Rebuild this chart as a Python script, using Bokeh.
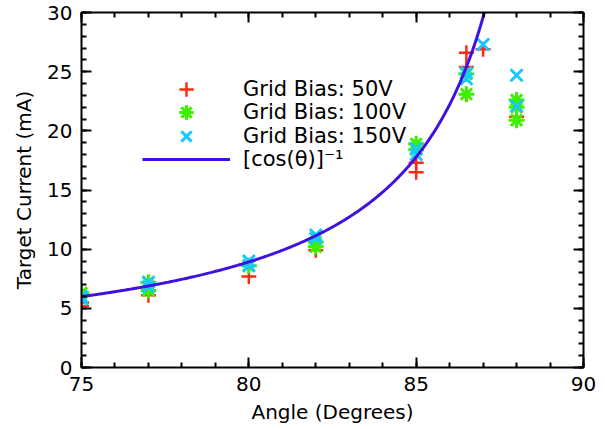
import numpy as np
from bokeh.plotting import figure
from bokeh.models import Legend, LegendItem, LinearAxis, Range1d, SingleIntervalTicker
from bokeh.embed import file_html
from bokeh.resources import INLINE

# ---- data ----
angle_50v = [75, 75, 77, 80, 82, 85, 85, 86.5, 86.5, 87, 88]
current_50v = [5.2, 5.5, 6.1, 7.7, 9.9, 16.5, 17.3, 26.6, 25.4, 26.9, 21.2]

angle_100v = [75, 77, 77, 80, 82, 82, 85, 85, 86.5, 86.5, 88, 88, 88]
current_100v = [6.3, 6.5, 7.2, 8.6, 10.2, 10.6, 18.9, 18.4, 24.8, 23.1, 22.6, 22.0, 20.9]

angle_150v = [75, 75, 77, 77, 80, 80, 82, 82, 85, 85, 86.5, 86.5, 87, 88, 88]
current_150v = [5.8, 6.0, 6.8, 7.2, 8.6, 9.0, 10.9, 11.2, 18.0, 18.5, 24.9, 24.4, 27.3, 24.7, 22.1]

# model curve: I = K / cos(theta)
curve_scale_k = 1.55
theta_deg = np.linspace(75, 87.3, 400)
curve_current = curve_scale_k / np.cos(np.radians(theta_deg))

labels = ["Grid Bias: 50V", "Grid Bias: 100V", "Grid Bias: 150V", "[cos(θ)]⁻¹"]
x_title = "Angle (Degrees)"
y_title = "Target Current (mA)"

RED = "#ff2a12"
GREEN = "#3cf000"
CYAN = "#18c8ff"
BLUE = "#4010e0"
FONT = "DejaVu Sans"

p = figure(width=605, height=429, x_range=Range1d(75, 90), y_range=Range1d(0, 30),
           output_backend="svg", toolbar_location=None,
           min_border_left=81, min_border_right=22, min_border_top=12, min_border_bottom=62)
p.outline_line_color = None
p.xgrid.visible = False
p.ygrid.visible = False
p.background_fill_color = "white"
p.border_fill_color = "white"

xt = SingleIntervalTicker(interval=5, num_minor_ticks=5)
yt = SingleIntervalTicker(interval=5, num_minor_ticks=5)
p.xaxis.ticker = xt
p.yaxis.ticker = yt
p.xaxis.axis_label = x_title
p.yaxis.axis_label = y_title

for ax in [p.xaxis[0], p.yaxis[0]]:
    ax.axis_line_width = 2
    ax.major_tick_line_width = 2
    ax.minor_tick_line_width = 2
    ax.major_tick_in = 10
    ax.major_tick_out = 0
    ax.minor_tick_in = 5
    ax.minor_tick_out = 0
    ax.major_label_text_font = FONT
    ax.major_label_text_font_size = "20px"
    ax.major_label_text_color = "black"
    ax.axis_label_text_font = FONT
    ax.axis_label_text_font_size = "20px"
    ax.axis_label_text_font_style = "normal"
    ax.axis_label_text_color = "black"
p.xaxis.major_label_standoff = 9
p.xaxis.axis_label_standoff = 6
p.yaxis.major_label_standoff = 9
p.yaxis.axis_label_standoff = 8

for loc, tk in [("right", yt), ("above", xt)]:
    ax = LinearAxis(ticker=tk)
    ax.axis_line_width = 2
    ax.major_tick_line_width = 2
    ax.minor_tick_line_width = 2
    ax.major_tick_in = 10
    ax.major_tick_out = 0
    ax.minor_tick_in = 5
    ax.minor_tick_out = 0
    ax.major_label_text_font_size = "0px"
    ax.major_label_text_color = None
    ax.major_label_standoff = 0
    p.add_layout(ax, loc)

r50 = p.scatter(angle_50v, current_50v, marker="cross", size=15, line_color=RED, line_width=2.5)
r100 = p.scatter(angle_100v, current_100v, marker="asterisk", size=16, line_color=GREEN, line_width=3)
r150 = p.scatter(angle_150v, current_150v, marker="x", size=17, line_color=CYAN, line_width=3)
rline = p.line(theta_deg, curve_current, line_color=BLUE, line_width=3)

renderers = [r50, r100, r150, rline]
legend_bottoms = [260, 237, 213, 190]
for lab, ren, vy in zip(labels, renderers, legend_bottoms):
    lg = Legend(items=[LegendItem(label=lab, renderers=[ren])], location=(61, vy),
                glyph_width=88, glyph_height=36, label_height=20, label_standoff=13,
                padding=0, margin=0, spacing=0, border_line_color=None,
                background_fill_alpha=0, label_text_font=FONT, label_text_font_size="21px",
                label_text_color="black")
    p.add_layout(lg)

open("out.html", "w").write(file_html(p, INLINE))
